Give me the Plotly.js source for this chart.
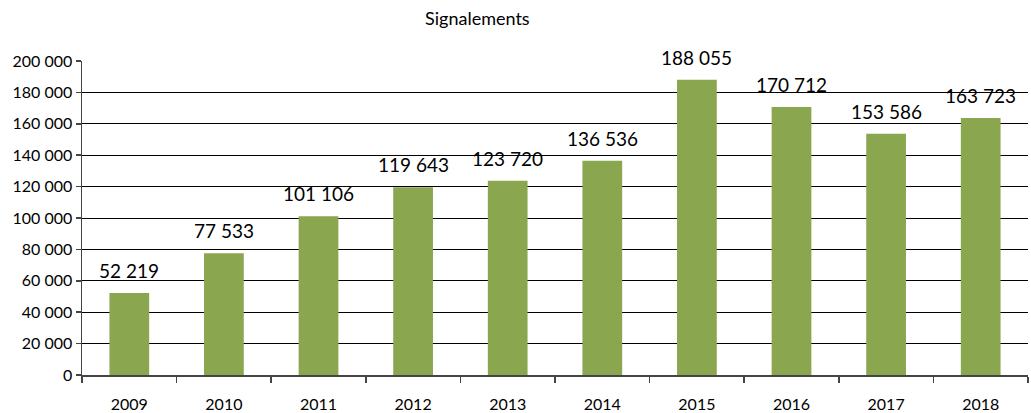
<!DOCTYPE html>
<html>
<head>
<meta charset="utf-8">
<script src="https://cdn.plot.ly/plotly-3.0.1.min.js"></script>
<style>
  body { margin: 0; background: #fff; }
  #chart { width: 1031px; height: 413px; }
</style>
</head>
<body>
<div id="chart"></div>
<script>
const years = ['2009', '2010', '2011', '2012', '2013', '2014', '2015', '2016', '2017', '2018'];
const signalements = [52219, 77533, 101106, 119643, 123720, 136536, 188055, 170712, 153586, 163723];
const yTicks = [0, 20000, 40000, 60000, 80000, 100000, 120000, 140000, 160000, 180000, 200000];

// thousands with a space, like the French source
function fmt(v) {
    return String(v).replace(/\B(?=(\d{3})+(?!\d))/g, ' ');
}

const trace = {
    x: years,
    y: signalements,
    type: 'bar',
    marker: { color: '#8aa64f' },
    hoverinfo: 'x+y'
};

// value labels above each bar (x = category index)
const labels = years.map((yr, i) => ({
    x: i,
    y: signalements[i],
    xref: 'x',
    yref: 'y',
    text: fmt(signalements[i]),
    showarrow: false,
    yanchor: 'bottom',
    yshift: 9,
    font: { family: 'Lato, sans-serif', size: 19, color: '#000' }
}));

const layout = {
    width: 1031,
    height: 413,
    margin: { l: 82, r: 3, t: 61, b: 38 },
    paper_bgcolor: '#fff',
    plot_bgcolor: '#fff',
    separators: ', ',
    font: { family: 'Lato, sans-serif', color: '#000' },
    bargap: 0.58,
    showlegend: false,
    annotations: labels,
    title: {
        text: 'Signalements',
        x: 0.463,
        xanchor: 'center',
        y: 0.955,
        yanchor: 'middle',
        font: { size: 18, color: '#000' }
    },
    xaxis: {
        type: 'category',
        range: [-0.5, years.length - 0.5],
        showline: true,
        linecolor: '#444',
        linewidth: 1.5,
        ticks: 'outside',
        tickson: 'boundaries',
        ticklen: 6,
        tickcolor: '#444',
        tickwidth: 1.5,
        ticklabelstandoff: 14,
        tickfont: { size: 16 },
        showgrid: false
    },
    yaxis: {
        range: [0, 200000],
        tickvals: yTicks,
        tickformat: ',',
        showline: true,
        linecolor: '#444',
        linewidth: 1.5,
        ticks: 'outside',
        ticklen: 5,
        tickcolor: '#444',
        tickwidth: 1.5,
        tickfont: { size: 16 },
        showgrid: true,
        gridcolor: '#000',
        gridwidth: 1,
        zeroline: false
    }
};

Plotly.newPlot('chart', [trace], layout, { displayModeBar: false, staticPlot: true });
</script>
</body>
</html>
